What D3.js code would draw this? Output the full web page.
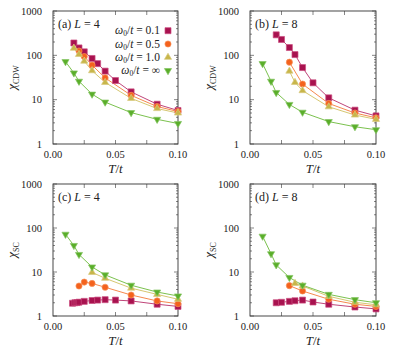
<!DOCTYPE html>
<html><head><meta charset="utf-8">
<script src="https://cdn.jsdelivr.net/npm/d3@7"></script>
<style>
body{margin:0;background:#fff;}
svg{display:block;}
svg text{font-family:"Liberation Serif","DejaVu Serif","Times New Roman",serif;}
</style></head>
<body><svg id="c" width="395" height="352"></svg>
<script>
// ---------- data ----------
const seriesNames = ["ω0/t = 0.1", "ω0/t = 0.5", "ω0/t = 1.0", "ω0/t = ∞"];
const xTickLabels = ["0.00", "0.05", "0.10"];
const yTickLabels = ["1", "10", "100", "1000"];

// (a) chi_CDW, L = 4   [T/t, value]
const a_w01 = [[0.0167,190],[0.0208,147],[0.025,120],[0.03125,85],[0.0357,65],[0.0417,44],[0.05,27],[0.0625,15],[0.0833,7.9],[0.1,5.7]];
const a_w05 = [[0.0208,125],[0.025,94],[0.03125,60],[0.0417,31],[0.0625,12.5],[0.0833,7.0],[0.1,5.4]];
const a_w10 = [[0.0167,145],[0.0208,105],[0.025,74],[0.03125,45],[0.0417,24.5],[0.0625,10.7],[0.0833,6.3],[0.1,5.0]];
const a_inf = [[0.01,72],[0.0167,40],[0.0208,26],[0.03125,13.3],[0.0417,8.8],[0.0625,5.1],[0.0833,3.6],[0.1,2.9]];
// (b) chi_CDW, L = 8
const b_w01 = [[0.0208,290],[0.025,228],[0.03125,150],[0.0357,104],[0.0417,53],[0.05,24],[0.0625,11],[0.0833,5.8],[0.1,4.3]];
const b_w05 = [[0.03125,70],[0.0417,22.5],[0.0625,8.2],[0.0833,5.0],[0.1,3.9]];
const b_w10 = [[0.03125,44],[0.0357,24.5],[0.0417,16],[0.0625,6.9],[0.0833,4.5],[0.1,3.6]];
const b_inf = [[0.01,65],[0.0167,26],[0.0208,14.5],[0.03125,7.8],[0.0417,5.2],[0.0625,3.2],[0.0833,2.45],[0.1,2.1]];
// (c) chi_SC, L = 4
const c_w01 = [[0.0156,1.95],[0.0175,2.0],[0.0192,2.02],[0.0208,2.06],[0.025,2.15],[0.03125,2.25],[0.0357,2.3],[0.0417,2.35],[0.05,2.3],[0.0625,2.2],[0.0833,1.85],[0.1,1.65]];
const c_w05 = [[0.0208,4.8],[0.025,5.9],[0.03125,5.5],[0.0417,4.5],[0.0625,3.0],[0.0833,2.2],[0.1,1.9]];
const c_w10 = [[0.03125,9.8],[0.0417,7.2],[0.0625,4.3],[0.0833,3.1],[0.1,2.4]];
const c_inf = [[0.01,72],[0.0167,40],[0.0208,25],[0.03125,13],[0.0417,8.6],[0.0625,5.0],[0.0833,3.5],[0.1,2.85]];
// (d) chi_SC, L = 8
const d_w01 = [[0.0208,2.0],[0.025,2.05],[0.03125,2.15],[0.0357,2.22],[0.0417,2.3],[0.05,2.08],[0.0625,1.85],[0.0833,1.6],[0.1,1.45]];
const d_w05 = [[0.03125,4.9],[0.0417,3.7],[0.0625,2.4],[0.0833,1.85],[0.1,1.65]];
const d_w10 = [[0.0357,5.5],[0.0417,4.8],[0.0625,2.8],[0.0833,2.05],[0.1,1.8]];
const d_inf = [[0.01,65],[0.0167,26],[0.0208,14.5],[0.03125,7.5],[0.0417,5.0],[0.0625,3.1],[0.0833,2.35],[0.1,2.0]];

// ---------- styles ----------
const colors  = ["#a8124f", "#f4621d", "#c8b64a", "#5aae2a"];
const strokes = ["#cc4d80", "#f7905a", "#d8ca80", "#84c462"];
const lineCol = ["#b8306a", "#f47a3a", "#d0c060", "#6cba3a"];

const panels = [
  {tag:"(a)", L:"4", q:"CDW", x:53, y:11, w:125, h:133, series:[a_w01,a_w05,a_w10,a_inf], legend:true},
  {tag:"(b)", L:"8", q:"CDW", x:250, y:11, w:126, h:133, series:[b_w01,b_w05,b_w10,b_inf]},
  {tag:"(c)", L:"4", q:"SC",  x:53, y:184, w:125, h:132, series:[c_w01,c_w05,c_w10,c_inf]},
  {tag:"(d)", L:"8", q:"SC",  x:250, y:184, w:126, h:132, series:[d_w01,d_w05,d_w10,d_inf]}
];

const svg = d3.select("#c");
const axisCol = "#333";
const FF = "Liberation Serif, DejaVu Serif, serif";

function symbolPath(k){
  if(k===0) return d3.symbol().type(d3.symbolSquare).size(36)();
  if(k===1) return d3.symbol().type(d3.symbolCircle).size(30)();
  return d3.symbol().type(d3.symbolTriangle).size(22)();
}
function drawMarker(g, k, cx, cy){
  g.append("path").attr("d", symbolPath(k))
   .attr("transform", `translate(${cx},${cy})` + (k===3 ? " rotate(180)" : ""))
   .attr("fill", colors[k]).attr("stroke", strokes[k]).attr("stroke-width", 0.7);
}

panels.forEach(p => {
  const g = svg.append("g").attr("transform", `translate(${p.x},${p.y})`);
  const x = d3.scaleLinear().domain([0, 0.1]).range([0, p.w]);
  const y = d3.scaleLog().domain([1, 1000]).range([p.h, 0]);

  const yt = [];
  for (let e = 0; e < 3; e++) for (let m = 1; m <= 9; m++) yt.push(m * Math.pow(10, e));
  yt.push(1000);
  yt.forEach(v => {
    const major = [1,10,100,1000].includes(v);
    const len = major ? 4 : 2;
    g.append("line").attr("x1",0).attr("x2",len).attr("y1",y(v)).attr("y2",y(v)).attr("stroke",axisCol).attr("stroke-width",0.6);
    g.append("line").attr("x1",p.w).attr("x2",p.w-len).attr("y1",y(v)).attr("y2",y(v)).attr("stroke",axisCol).attr("stroke-width",0.6);
  });
  [0.025,0.05,0.075].forEach(v => {
    g.append("line").attr("x1",x(v)).attr("x2",x(v)).attr("y1",p.h).attr("y2",p.h-4).attr("stroke",axisCol).attr("stroke-width",0.6);
    g.append("line").attr("x1",x(v)).attr("x2",x(v)).attr("y1",0).attr("y2",4).attr("stroke",axisCol).attr("stroke-width",0.6);
  });
  g.append("rect").attr("width",p.w).attr("height",p.h).attr("fill","none").attr("stroke",axisCol).attr("stroke-width",0.9);

  [0,0.05,0.1].forEach((v,i) => {
    g.append("text").attr("x",x(v)).attr("y",p.h+14).attr("text-anchor","middle")
     .attr("font-family",FF).attr("font-size",10.5).attr("fill","#222").text(xTickLabels[i]);
  });
  [1,10,100,1000].forEach((v,i) => {
    g.append("text").attr("x",-11).attr("y",y(v)+3.5).attr("text-anchor","end")
     .attr("font-family",FF).attr("font-size",10.5).attr("fill","#222").text(yTickLabels[i]);
  });

  const xt = g.append("text").attr("x",p.w/2).attr("y",p.h+29).attr("text-anchor","middle")
    .attr("font-family",FF).attr("font-size",13).attr("fill","#222");
  xt.append("tspan").attr("font-style","italic").text("T");
  xt.append("tspan").text("/");
  xt.append("tspan").attr("font-style","italic").text("t");

  const yl = g.append("text").attr("transform",`translate(${-37},${p.h/2}) rotate(-90)`)
    .attr("text-anchor","middle").attr("font-family",FF).attr("font-size",13).attr("fill","#222");
  yl.append("tspan").attr("font-style","italic").text("χ");
  yl.append("tspan").attr("font-size",8).attr("dy",3).text(p.q);

  const pl = g.append("text").attr("x",5).attr("y",17).attr("font-family",FF).attr("font-size",12).attr("fill","#222");
  pl.append("tspan").text(p.tag + " ");
  pl.append("tspan").attr("font-style","italic").text("L");
  pl.append("tspan").text(" = " + p.L);

  const line = d3.line().x(d => x(d[0])).y(d => y(d[1]));
  const sg = g.append("g");
  p.series.forEach((s,k) => {
    sg.append("path").datum(s).attr("d",line).attr("fill","none").attr("stroke",lineCol[k]).attr("stroke-width",0.9);
  });
  p.series.forEach((s,k) => {
    s.forEach(d => drawMarker(sg, k, x(d[0]), y(d[1])));
  });

  if (p.legend) {
    const rows = [19.7, 33, 46.3, 59.6];
    seriesNames.forEach((n,k) => {
      const t = g.append("text").attr("x",107).attr("y",rows[k]+3.5).attr("text-anchor","end")
        .attr("font-family",FF).attr("font-size",11.5).attr("fill","#222");
      t.append("tspan").attr("font-style","italic").text("ω");
      t.append("tspan").attr("font-size",7.5).attr("dy",2).text("0");
      t.append("tspan").attr("dy",-2).text("/");
      t.append("tspan").attr("font-style","italic").text("t");
      t.append("tspan").text(" = " + n.split("= ")[1]);
      drawMarker(g, k, 115, rows[k]);
    });
  }
});
</script></body></html>
